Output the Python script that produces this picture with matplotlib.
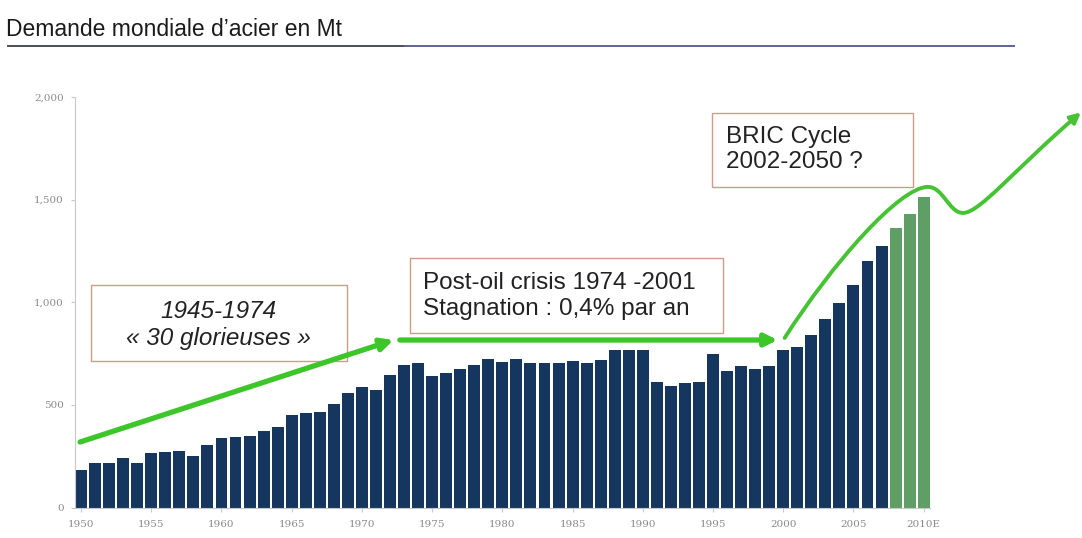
import matplotlib
matplotlib.use("Agg")
import matplotlib.pyplot as plt
from matplotlib.patches import Rectangle, FancyArrowPatch
from matplotlib.path import Path
from matplotlib.lines import Line2D

# ---------------- data ----------------
years = list(range(1950, 2011))
demand = [185, 216, 216, 242, 216, 264, 268, 277, 253, 305,
          337, 345, 350, 373, 391, 451, 462, 467, 503, 556,
          589, 573, 647, 696, 704, 642, 657, 673, 696, 725,
          708, 725, 706, 704, 704, 715, 706, 719, 769, 769,
          769, 612, 594, 605, 613, 748, 667, 691, 675, 691,
          767, 780, 842, 917, 998, 1085, 1202, 1272, 1364, 1432,
          1513]
estimate_from = 2008
xtick_years = [1950, 1955, 1960, 1965, 1970, 1975, 1980, 1985, 1990, 1995, 2000, 2005, 2010]
xtick_labels = ["1950", "1955", "1960", "1965", "1970", "1975", "1980", "1985",
                "1990", "1995", "2000", "2005", "2010E"]
ytick_values = [0, 500, 1000, 1500, 2000]
ytick_labels = ["0", "500", "1,000", "1,500", "2,000"]

title = "Demande mondiale d\u2019acier en Mt"
box1_text = "1945-1974\n\u00ab 30 glorieuses \u00bb"
box2_text = "Post-oil crisis 1974 -2001\nStagnation : 0,4% par an"
box3_text = "BRIC Cycle\n2002-2050 ?"

NAVY = "#15365f"
GREEN_BAR = "#5f9e64"
ARROW_GREEN = "#3cc62a"
BOX_EDGE = "#cf9a88"

W, H = 1082, 538
fig = plt.figure(figsize=(W / 100, H / 100), dpi=100)
fig.patch.set_facecolor("white")

ax_left, ax_right, ax_bottom, ax_top = 75, 930, 507.5, 97
ax = fig.add_axes([ax_left / W, (H - ax_bottom) / H,
                   (ax_right - ax_left) / W, (ax_bottom - ax_top) / H])

colors = [GREEN_BAR if y >= estimate_from else NAVY for y in years]
ax.bar(years, demand, width=0.85, color=colors, edgecolor="none", zorder=2)

ax.set_xlim(1949.57, 2010.45)
ax.set_ylim(0, 2000)
ax.set_xticks(xtick_years)
ax.set_xticklabels(xtick_labels)
ax.set_yticks(ytick_values)
ax.set_yticklabels(ytick_labels)
for s in ["top", "right"]:
    ax.spines[s].set_visible(False)
for s in ["left", "bottom"]:
    ax.spines[s].set_color("#c8c8c8")
    ax.spines[s].set_linewidth(0.8)
ax.tick_params(axis="both", colors="#c8c8c8", length=3, width=0.8,
               labelcolor="#8a8a8a", labelsize=7.5)
ax.tick_params(axis="x", pad=6)
ax.tick_params(axis="y", pad=5)
for lbl in ax.get_xticklabels() + ax.get_yticklabels():
    lbl.set_family("DejaVu Serif")

# ---------------- title ----------------
fig.text(6 / W, 1 - 29 / H, title, ha="left", va="center", fontsize=16.5,
         family="Liberation Sans", color="#1a1a1a")
fig.add_artist(Line2D([8 / W, 405 / W], [1 - 45.5 / H] * 2, color="#4a4f55", lw=1.4))
fig.add_artist(Line2D([405 / W, 1014 / W], [1 - 45.5 / H] * 2, color="#5d6490", lw=1.4))

# ---------------- boxes ----------------
def box(x0, x1, y0, y1):
    ax.add_patch(Rectangle((x0, y0), x1 - x0, y1 - y0, facecolor="white",
                           edgecolor=BOX_EDGE, lw=1.0, zorder=4, clip_on=False))

box(1950.71, 1968.93, 714, 1084)
ax.text(1959.8, 889, box1_text, ha="center", va="center", fontsize=17.5,
        style="italic", family="Liberation Sans", color="#222222", zorder=5,
        linespacing=1.25)

box(1973.42, 1995.69, 850, 1216)
ax.text(1974.34, 1030, box2_text, ha="left", va="center", fontsize=17.5,
        family="Liberation Sans", color="#222222", zorder=5, linespacing=1.2)

box(1994.91, 2009.22, 1562, 1922)
ax.text(1995.91, 1745, box3_text, ha="left", va="center", fontsize=17.5,
        family="Liberation Sans", color="#222222", zorder=5, linespacing=1.2)

# ---------------- arrows ----------------
a1 = FancyArrowPatch((1949.93, 319), (1972.25, 816), arrowstyle="-|>",
                     mutation_scale=18, lw=3.8, color=ARROW_GREEN,
                     zorder=6, clip_on=False, shrinkA=0, shrinkB=0)
ax.add_patch(a1)
a2 = FancyArrowPatch((1972.70, 816), (1999.6, 816), arrowstyle="-|>",
                     mutation_scale=18, lw=3.8, color=ARROW_GREEN,
                     zorder=6, clip_on=False, shrinkA=0, shrinkB=0)
ax.add_patch(a2)

verts = [(2000.1, 826),
         (2003.5, 1190), (2008.3, 1562), (2010.3, 1562),
         (2011.4, 1562), (2011.8, 1435), (2012.8, 1435),
         (2014.0, 1435), (2016.5, 1650), (2021.2, 1925)]
codes = [Path.MOVETO] + [Path.CURVE4] * 9
curve = FancyArrowPatch(path=Path(verts, codes), arrowstyle="-|>",
                        mutation_scale=15, lw=2.8, color="#46c234",
                        zorder=6, clip_on=False, shrinkA=0, shrinkB=0)
ax.add_patch(curve)

fig.savefig("out.png", dpi=100, facecolor="white")
